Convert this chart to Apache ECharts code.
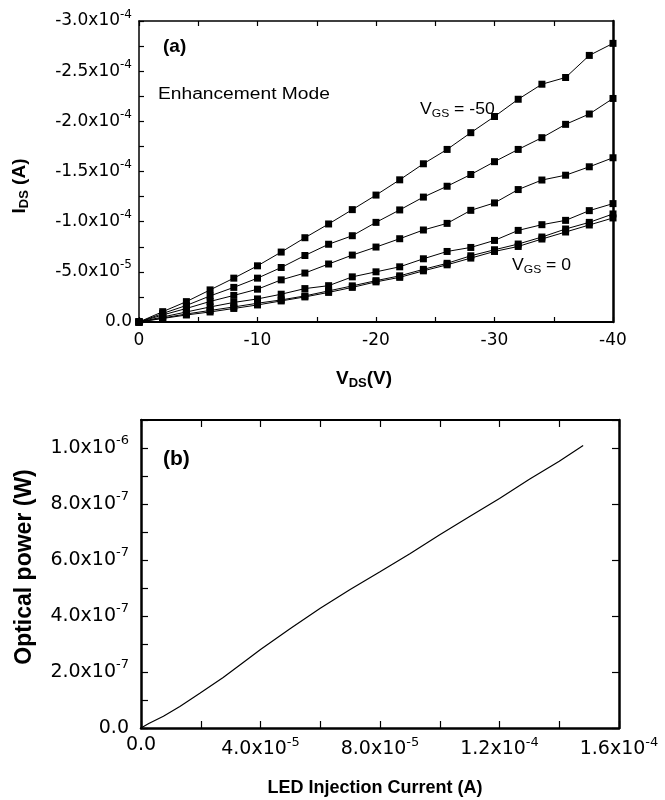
<!DOCTYPE html>
<html>
<head>
<meta charset="utf-8">
<script src="https://cdn.jsdelivr.net/npm/echarts@6/dist/echarts.min.js"></script>
<style>
  html, body { margin: 0; padding: 0; background: #fff; }
  #chart { width: 665px; height: 800px; }
</style>
</head>
<body>
<div id="chart"></div>
<script>
// ---------- Panel (a): I_DS vs V_DS ----------
const vds = [0, -2, -4, -6, -8, -10, -12, -14, -16, -18, -20, -22, -24, -26, -28, -30, -32, -34, -36, -38, -40];
const IDS_UNIT = 1e-5; // values below are in units of 1e-5 A
const idsVgsM50 = [0, -1.03, -2.03, -3.2, -4.37, -5.6, -6.97, -8.4, -9.77, -11.2, -12.65, -14.17, -15.77, -17.2, -18.87, -20.48, -22.2, -23.7, -24.37, -26.57, -27.77];
const idsVgsM40 = [0, -0.85, -1.65, -2.6, -3.45, -4.37, -5.43, -6.63, -7.75, -8.6, -9.93, -11.17, -12.45, -13.53, -14.7, -15.98, -17.2, -18.37, -19.7, -20.73, -22.28];
const idsVgsM30 = [0, -0.7, -1.35, -2.05, -2.65, -3.27, -4.2, -4.88, -5.78, -6.67, -7.47, -8.3, -9.17, -9.83, -11.13, -11.87, -13.2, -14.15, -14.63, -15.47, -16.37];
const idsVgsM20 = [0, -0.5, -1.0, -1.5, -1.95, -2.3, -2.77, -3.33, -3.62, -4.5, -5.0, -5.5, -6.3, -7.03, -7.43, -8.13, -9.13, -9.7, -10.13, -11.1, -11.8];
const idsVgsM10 = [0, -0.4, -0.8, -1.15, -1.5, -1.87, -2.2, -2.6, -3.1, -3.6, -4.12, -4.6, -5.25, -5.85, -6.6, -7.2, -7.77, -8.47, -9.27, -9.93, -10.77];
const idsVgs0   = [0, -0.35, -0.7, -1.0, -1.35, -1.7, -2.1, -2.5, -2.95, -3.45, -4.0, -4.45, -5.1, -5.7, -6.37, -7.03, -7.53, -8.27, -8.97, -9.67, -10.37];
const idsSeriesNames = ['VGS = -50', 'VGS = -40', 'VGS = -30', 'VGS = -20', 'VGS = -10', 'VGS = 0'];
const idsSeriesData = [idsVgsM50, idsVgsM40, idsVgsM30, idsVgsM20, idsVgsM10, idsVgs0];

// ---------- Panel (b): optical power vs LED current ----------
const ledCurrent   = [0, 2.6e-6, 7.5e-6, 1.3e-5, 1.97e-5, 2.75e-5, 3.5e-5, 4.0e-5, 5.0e-5, 6.0e-5, 7.0e-5, 8.0e-5, 9.0e-5, 1.0e-4, 1.1e-4, 1.2e-4, 1.3e-4, 1.4e-4, 1.48e-4];
const opticalPower = [0, 1.6e-8, 4.2e-8, 7.7e-8, 1.24e-7, 1.80e-7, 2.40e-7, 2.80e-7, 3.55e-7, 4.28e-7, 4.95e-7, 5.58e-7, 6.22e-7, 6.90e-7, 7.55e-7, 8.20e-7, 8.88e-7, 9.53e-7, 1.009e-6];

// ---------- helpers ----------
const TICK_FONT = 'DejaVu Sans';
const TITLE_FONT = 'Liberation Sans, Arial, sans-serif';

function isMultiple(v, step) {
  const q = v / step;
  return Math.abs(q - Math.round(q)) < 1e-6;
}
function sciLabel(v) {
  if (Math.abs(v) < 1e-30) return '{m|0.0}';
  const exp = Math.floor(Math.log10(Math.abs(v)) + 1e-9);
  const mant = v / Math.pow(10, exp);
  return '{m|' + mant.toFixed(1) + 'x10}{s|' + exp + '}';
}
function sciRich(base, sup) {
  return {
    m: { fontSize: base, fontFamily: TICK_FONT, color: '#000' },
    s: { fontSize: sup, fontFamily: TICK_FONT, color: '#000', padding: [0, 0, Math.round(base * 0.75), 0] }
  };
}

const chart = echarts.init(document.getElementById('chart'), null, { renderer: 'canvas' });

const option = {
  backgroundColor: '#fff',
  animation: false,
  grid: [
    { left: 139, top: 21, width: 474, height: 301 },
    { left: 141, top: 420, width: 478, height: 308 }
  ],
  xAxis: [
    { // (a) bottom
      type: 'value', gridIndex: 0, min: -40, max: 0, interval: 5, inverse: true,
      axisLine: { show: true, onZero: false, lineStyle: { color: '#000', width: 2 } },
      axisTick: { show: true, inside: true, length: 5, lineStyle: { color: '#000', width: 1.2 } },
      axisLabel: {
        margin: 10, color: '#000', fontFamily: TICK_FONT, fontSize: 17,
        formatter: v => isMultiple(v, 10) ? String(Math.round(v)) : ''
      },
      splitLine: { show: false }
    },
    { // (a) top
      type: 'value', gridIndex: 0, position: 'top', min: -40, max: 0, interval: 5, inverse: true,
      axisLine: { show: true, onZero: false, lineStyle: { color: '#000', width: 1.5 } },
      axisTick: { show: true, inside: true, length: 5, lineStyle: { color: '#000', width: 1.2 } },
      axisLabel: { show: false },
      splitLine: { show: false }
    },
    { // (b) bottom
      type: 'value', gridIndex: 1, min: 0, max: 1.6e-4, interval: 2e-5,
      axisLine: { show: true, onZero: false, lineStyle: { color: '#000', width: 2.5 } },
      axisTick: { show: true, inside: true, length: 7, lineStyle: { color: '#000', width: 1.2 } },
      axisLabel: {
        margin: 8, color: '#000',
        formatter: v => isMultiple(v, 4e-5) ? sciLabel(v) : '',
        rich: sciRich(19, 13)
      },
      splitLine: { show: false }
    },
    { // (b) top
      type: 'value', gridIndex: 1, position: 'top', min: 0, max: 1.6e-4, interval: 2e-5,
      axisLine: { show: true, onZero: false, lineStyle: { color: '#000', width: 2 } },
      axisTick: { show: true, inside: true, length: 7, lineStyle: { color: '#000', width: 1.2 } },
      axisLabel: { show: false },
      splitLine: { show: false }
    }
  ],
  yAxis: [
    { // (a) left
      type: 'value', gridIndex: 0, min: -3e-4, max: 0, interval: 2.5e-5, inverse: true,
      axisLine: { show: true, onZero: false, lineStyle: { color: '#000', width: 1.5 } },
      axisTick: { show: true, inside: true, length: 5, lineStyle: { color: '#000', width: 1.2 } },
      axisLabel: {
        margin: 7, color: '#000',
        formatter: v => isMultiple(v, 5e-5) ? sciLabel(v) : '',
        rich: sciRich(17, 12)
      },
      splitLine: { show: false }
    },
    { // (a) right
      type: 'value', gridIndex: 0, position: 'right', min: -3e-4, max: 0, inverse: true,
      axisLine: { show: true, onZero: false, lineStyle: { color: '#000', width: 2.5 } },
      axisTick: { show: false }, axisLabel: { show: false }, splitLine: { show: false }
    },
    { // (b) left
      type: 'value', gridIndex: 1, min: 0, max: 1.1e-6, interval: 1e-7,
      axisLine: { show: true, onZero: false, lineStyle: { color: '#000', width: 2.5 } },
      axisTick: { show: true, inside: true, length: 7, lineStyle: { color: '#000', width: 1.2 } },
      axisLabel: {
        margin: 12, color: '#000',
        formatter: v => (isMultiple(v, 2e-7) && v < 1.05e-6) ? sciLabel(v) : '',
        rich: sciRich(19, 13)
      },
      splitLine: { show: false }
    },
    { // (b) right
      type: 'value', gridIndex: 1, position: 'right', min: 0, max: 1.1e-6, interval: 2e-7,
      axisLine: { show: true, onZero: false, lineStyle: { color: '#000', width: 2.5 } },
      axisTick: { show: true, inside: true, length: 7, lineStyle: { color: '#000', width: 1.2 } },
      axisLabel: { show: false }, splitLine: { show: false }
    }
  ],
  series: idsSeriesData.map((arr, i) => ({
    name: idsSeriesNames[i],
    type: 'line', xAxisIndex: 0, yAxisIndex: 0,
    data: vds.map((v, k) => [v, arr[k] * IDS_UNIT]),
    symbol: 'rect', symbolSize: 7,
    itemStyle: { color: '#000' },
    lineStyle: { color: '#000', width: 1 },
    z: 3
  })).concat([{
    name: 'Optical power',
    type: 'line', xAxisIndex: 2, yAxisIndex: 2,
    data: ledCurrent.map((c, k) => [c, opticalPower[k]]),
    showSymbol: false, symbol: 'none',
    lineStyle: { color: '#000', width: 1.2 }
  }]),
  graphic: [
    { type: 'text', x: 163, y: 37, style: { text: '(a)', fontFamily: TITLE_FONT, fontWeight: 'bold', fontSize: 19, fill: '#000' } },
    { type: 'text', x: 158, y: 87, scaleX: 1.2, style: { text: 'Enhancement Mode', fontFamily: TITLE_FONT, fontSize: 16, fill: '#000' } },
    { type: 'text', x: 420, y: 100, scaleX: 1.1, style: {
        text: '{v|V}{s|GS}{v| = -50}',
        rich: { v: { fontFamily: TITLE_FONT, fontSize: 16, fill: '#000' }, s: { fontFamily: TITLE_FONT, fontSize: 11, fill: '#000', padding: [8, 0, 0, 0] } } } },
    { type: 'text', x: 512, y: 256, scaleX: 1.1, style: {
        text: '{v|V}{s|GS}{v| = 0}',
        rich: { v: { fontFamily: TITLE_FONT, fontSize: 16, fill: '#000' }, s: { fontFamily: TITLE_FONT, fontSize: 11, fill: '#000', padding: [8, 0, 0, 0] } } } },
    { type: 'text', x: 20, y: 186, rotation: Math.PI / 2, style: {
        text: '{v|I}{s|DS}{v| (A)}', align: 'center', verticalAlign: 'middle',
        rich: { v: { fontFamily: TITLE_FONT, fontWeight: 'bold', fontSize: 19, fill: '#000' }, s: { fontFamily: TITLE_FONT, fontWeight: 'bold', fontSize: 13, fill: '#000', padding: [9, 0, 0, 0] } } } },
    { type: 'text', x: 364, y: 379, style: {
        text: '{v|V}{s|DS}{v|(V)}', align: 'center', verticalAlign: 'middle',
        rich: { v: { fontFamily: TITLE_FONT, fontWeight: 'bold', fontSize: 19, fill: '#000' }, s: { fontFamily: TITLE_FONT, fontWeight: 'bold', fontSize: 13, fill: '#000', padding: [9, 0, 0, 0] } } } },
    { type: 'text', x: 163, y: 449, style: { text: '(b)', fontFamily: TITLE_FONT, fontWeight: 'bold', fontSize: 21, fill: '#000' } },
    { type: 'text', x: 25, y: 567, rotation: Math.PI / 2, style: { text: 'Optical power (W)', align: 'center', verticalAlign: 'middle', fontFamily: TITLE_FONT, fontWeight: 'bold', fontSize: 23, fill: '#000' } },
    { type: 'text', x: 375, y: 788, style: { text: 'LED Injection Current (A)', align: 'center', verticalAlign: 'middle', fontFamily: TITLE_FONT, fontWeight: 'bold', fontSize: 18, fill: '#000' } }
  ]
};
chart.setOption(option);
</script>
</body>
</html>
